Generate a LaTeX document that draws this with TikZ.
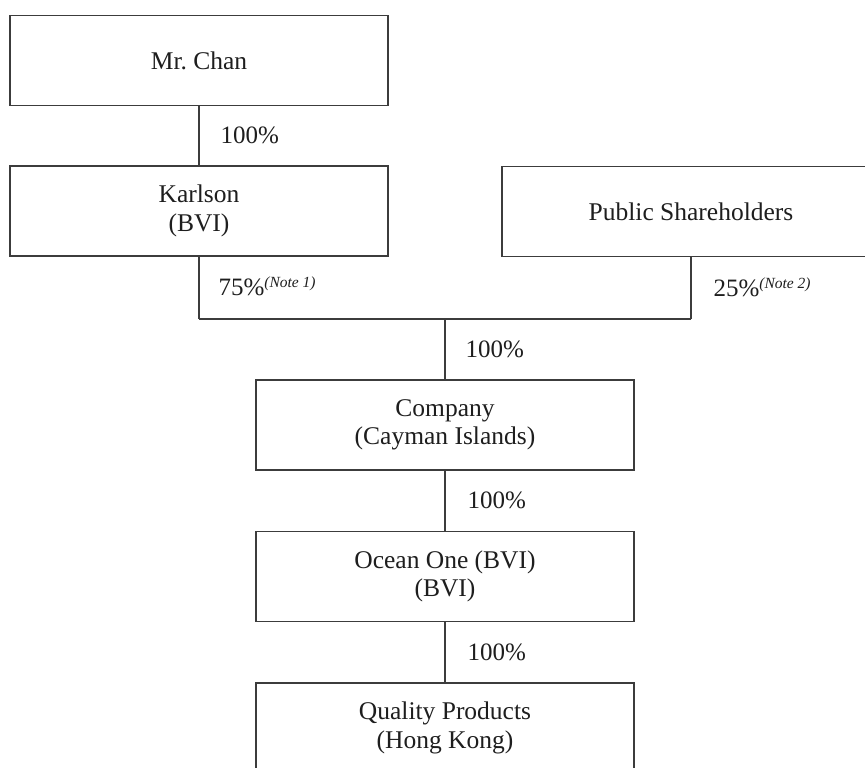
\documentclass[tikz,border=0pt]{standalone}
\usepackage{fontspec}
\setmainfont{Liberation Serif}
\usetikzlibrary{positioning}
\definecolor{chartline}{RGB}{60,60,60}
\definecolor{charttext}{RGB}{30,30,30}
\newcommand{\notemark}[1]{\raisebox{8pt}{\fontsize{15.5}{15.5}\selectfont\itshape (Note #1)}}

\begin{document}
\begin{tikzpicture}[x=1pt,y=-1pt,
  entity/.style={draw=chartline,line width=1.1pt,minimum width=378pt,minimum height=90pt,
    inner sep=0pt,align=center,text=charttext,font=\fontsize{25.5}{28.5}\selectfont},
  share/.style={text=charttext,font=\fontsize{25}{28}\selectfont,inner sep=0pt,
    anchor=base west,yshift=-8pt},
  wire/.style={draw=chartline,line width=1.1pt}]
\useasboundingbox (0,0) rectangle (865,768);
\clip (0,0) rectangle (865,768);
\node [entity] (chan) at (199,60.5) {Mr.\ Chan};
\node [entity] (karlson) at (199,211) {Karlson\\(BVI)};
\node [entity] (public) at (691,211.5) {Public Shareholders};
\coordinate (join) at (445,319);
\node [entity] (company) at (445,425) {Company\\(Cayman Islands)};
\node [entity] (ocean) at (445,576.5) {Ocean One (BVI)\\(BVI)};
\node [entity] (quality) at (445,728) {Quality Products\\(Hong Kong)};

\draw [wire] (chan) -- (karlson) node [share,midway,xshift=21pt] {100\%};
\draw [wire] (karlson) -- (karlson |- join) node [share,midway,xshift=19pt] {75\%\notemark{1}};
\draw [wire] (public) -- (public |- join) node [share,midway,xshift=22pt] {25\%\notemark{2}};
\draw [wire] (karlson |- join) -- (public |- join);
\draw [wire] (join) -- (company) node [share,midway,xshift=20pt] {100\%};
\draw [wire] (company) -- (ocean) node [share,midway,xshift=22pt] {100\%};
\draw [wire] (ocean) -- (quality) node [share,midway,xshift=22pt] {100\%};
\end{tikzpicture}
\end{document}
